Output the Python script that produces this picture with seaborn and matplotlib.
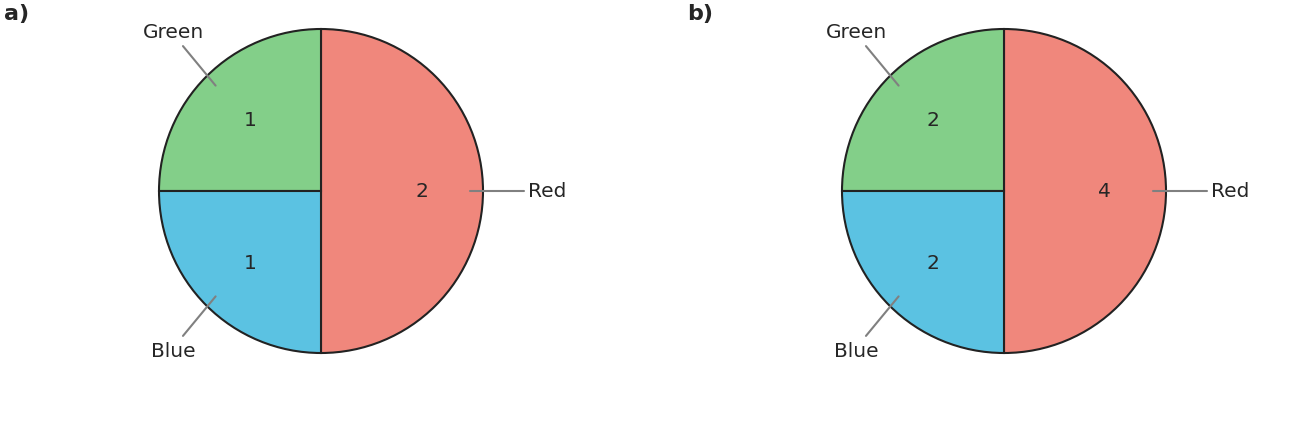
import numpy as np
import matplotlib
matplotlib.use("Agg")
import matplotlib.pyplot as plt
import seaborn as sns

# data
categories = ["Red", "Green", "Blue"]
values_a = [2, 1, 1]
values_b = [4, 2, 2]
panel_titles = ["a)", "b)"]
colors = ["#f0877c", "#83cf89", "#5bc2e2"]

sns.set_theme(style="white")
plt.rcParams["font.family"] = ["DejaVu Sans"]
text_color = "#262626"

W, H = 1296, 439
fig = plt.figure(figsize=(W / 100, H / 100), dpi=100)

r_px = 162
centers = [(321, 192), (1004, 192)]


def draw_pie(cx, cy, values, title):
    ax = fig.add_axes([(cx - r_px) / W, (H - cy - r_px) / H, 2 * r_px / W, 2 * r_px / H])
    total = sum(values)
    wedges, _, autotexts = ax.pie(
        values, colors=colors, startangle=-90, counterclock=True,
        autopct=lambda p: f"{p * total / 100:.0f}", pctdistance=0.62,
        wedgeprops=dict(edgecolor="#222222", linewidth=1.5),
        textprops=dict(fontsize=14.5, color=text_color),
    )
    ax.set_xlim(-1, 1)
    ax.set_ylim(-1, 1)
    ax.set_aspect("equal")
    ax.axis("off")
    for w, name in zip(wedges, categories):
        w.set_clip_on(False)
        ang = np.deg2rad((w.theta1 + w.theta2) / 2)
        c, s = np.cos(ang), np.sin(ang)
        if abs(s) < 0.3:
            ax.plot([0.92 * c, 1.25 * c], [0, 0], color="#808080", lw=1.5, clip_on=False)
            ax.text(1.28 * c, 0, name, ha="left" if c > 0 else "right",
                    va="center", fontsize=14.5, color=text_color)
        else:
            ax.plot([0.92 * c, 1.205 * c], [0.92 * s, 1.265 * s], color="#808080",
                    lw=1.5, clip_on=False)
            ax.text(1.29 * c, 0.985 * np.sign(s), name, ha="center",
                    va="center", fontsize=14.5, color=text_color)
    fig.text((cx - 317) / W, 1 - 14 / H, title, fontsize=16, fontweight="bold",
             color=text_color, ha="left", va="center")


draw_pie(*centers[0], values_a, panel_titles[0])
draw_pie(*centers[1], values_b, panel_titles[1])

fig.savefig("out.png", dpi=100)
plt.close(fig)
